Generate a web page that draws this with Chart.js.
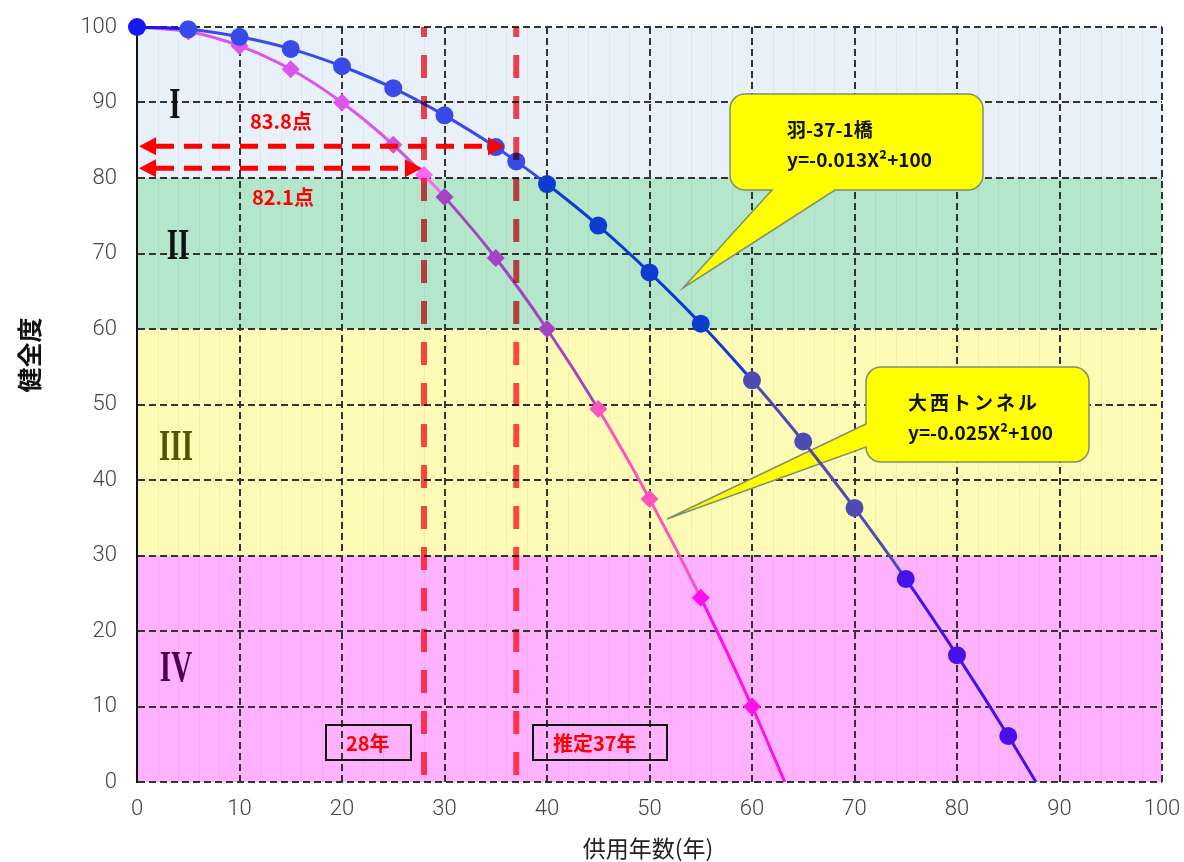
<!DOCTYPE html>
<html lang="ja">
<head>
<meta charset="utf-8">
<title>健全度の推移</title>
<script src="https://cdn.jsdelivr.net/npm/chart.js@4.4.1/dist/chart.umd.min.js"></script>
<style>
  html, body { margin: 0; padding: 0; background: #fff; }
  #wrap { width: 1184px; height: 862px; }
</style>
</head>
<body>
<div id="wrap"><canvas id="chart" width="1184" height="862"></canvas></div>
<script>
// 羽-37-1橋 (circles)
const years1 = [0, 5, 10, 15, 20, 25, 30, 35, 37, 40, 45, 50, 55, 60, 65, 70, 75, 80, 85, 87.7];
const score1 = [100, 99.7, 98.7, 97.1, 94.8, 91.9, 88.3, 84.1, 82.2, 79.2, 73.7, 67.5, 60.7, 53.2, 45.1, 36.3, 26.9, 16.8, 6.1, 0];
// 大西トンネル (diamonds)
const years2 = [0, 5, 10, 15, 20, 25, 28, 30, 35, 40, 45, 50, 55, 60, 63.2];
const score2 = [100, 99.4, 97.5, 94.4, 90, 84.4, 80.4, 77.5, 69.4, 60, 49.4, 37.5, 24.4, 10, 0];

// axis ticks
const xTicks = [0, 10, 20, 30, 40, 50, 60, 70, 80, 90, 100];
const yTicks = [0, 10, 20, 30, 40, 50, 60, 70, 80, 90, 100];

// 健全度 bands (I..IV)
const bandLabels = ['I', 'II', 'III', 'IV'];
const bandTop = [100, 80, 60, 30];
const bandBottom = [80, 60, 30, 0];

// annotations
const markYears = [28, 37];
const markYearLabels = ['28年', '推定37年'];
const arrowLevels = [84.2, 81.3];
const arrowEnds = [35.9, 27.8];
const arrowLabels = ['83.8点', '82.1点'];

// styles (kept apart from the data)
const bandColors = ['#e8f1f9', '#b3e6cb', '#fefbb7', '#feb2fe'];
const romanColors = ['#111111', '#111111', '#555500', '#4a0048'];
const romanPos = [[175, 105], [178, 246], [176, 447], [176, 668]];
const blueColors = ['#1818f0', '#3a4ae8', '#3a4ae8', '#3a4ae8', '#3a4ae8', '#3a4ae8', '#3a4ae8', '#3a4ae8', '#3a4ae8',
  '#0c3cd0', '#0c3cd0', '#0c3cd0', '#0c3cd0', '#4c4cb4', '#4c4cb4', '#4c4cb4', '#4412ea', '#4412ea', '#4412ea', '#4412ea'];
const pinkColors = ['#dd55ee', '#dd55ee', '#dd55ee', '#dd55ee', '#dd55ee', '#cc55e0', '#ff66f2', '#a444c4', '#a444c4',
  '#a444c4', '#ff55bb', '#ff55bb', '#ff10ee', '#ff10ee', '#ff10ee'];

const FONT = '"Noto Sans CJK JP", "Noto Sans", sans-serif';

function toPoints(xs, ys) {
  return xs.map((x, i) => ({ x: x, y: ys[i] }));
}

// 吹き出し (rounded box with a tail)
function calloutPath(ctx, x, y, w, h, r, tail) {
  ctx.beginPath();
  ctx.moveTo(x + r, y);
  ctx.lineTo(x + w - r, y);
  ctx.arcTo(x + w, y, x + w, y + r, r);
  ctx.lineTo(x + w, y + h - r);
  ctx.arcTo(x + w, y + h, x + w - r, y + h, r);
  if (tail.side === 'bottom') {
    ctx.lineTo(tail.b, y + h);
    ctx.lineTo(tail.tipX, tail.tipY);
    ctx.lineTo(tail.a, y + h);
  }
  ctx.lineTo(x + r, y + h);
  ctx.arcTo(x, y + h, x, y + h - r, r);
  if (tail.side === 'left') {
    ctx.lineTo(x, tail.b);
    ctx.lineTo(tail.tipX, tail.tipY);
    ctx.lineTo(x, tail.a);
  }
  ctx.lineTo(x, y + r);
  ctx.arcTo(x, y, x + r, y, r);
  ctx.closePath();
}

function drawCallout(ctx, box, tail, lines) {
  ctx.save();
  calloutPath(ctx, box[0], box[1], box[2], box[3], 15, tail);
  ctx.fillStyle = '#ffff00';
  ctx.fill();
  ctx.strokeStyle = '#7f9070';
  ctx.lineWidth = 1.5;
  ctx.stroke();
  ctx.fillStyle = '#111';
  ctx.font = 'bold 19px ' + FONT;
  ctx.textBaseline = 'middle';
  ctx.textAlign = 'left';
  lines.forEach(l => {
    ctx.letterSpacing = (l[3] || 0) + 'px';
    ctx.fillText(l[0], l[1], l[2]);
  });
  ctx.restore();
}

function drawArrow(ctx, x1, x2, y) {
  const head = 17, half = 9;
  ctx.save();
  ctx.strokeStyle = '#ff0000';
  ctx.fillStyle = '#ff0000';
  ctx.lineWidth = 5;
  ctx.setLineDash([18, 10]);
  ctx.beginPath();
  ctx.moveTo(x1 + head, y);
  ctx.lineTo(x2 - head, y);
  ctx.stroke();
  ctx.setLineDash([]);
  ctx.beginPath();
  ctx.moveTo(x1, y);
  ctx.lineTo(x1 + head, y - half);
  ctx.lineTo(x1 + head, y + half);
  ctx.closePath();
  ctx.fill();
  ctx.beginPath();
  ctx.moveTo(x2, y);
  ctx.lineTo(x2 - head, y - half);
  ctx.lineTo(x2 - head, y + half);
  ctx.closePath();
  ctx.fill();
  ctx.restore();
}

const decorPlugin = {
  id: 'decor',
  beforeDraw(chart) {
    const { ctx, chartArea: a, scales: { x, y } } = chart;
    ctx.save();
    ctx.fillStyle = '#ffffff';
    ctx.fillRect(0, 0, chart.width, chart.height);
    // bands
    bandTop.forEach((top, i) => {
      const py1 = y.getPixelForValue(top);
      const py2 = y.getPixelForValue(bandBottom[i]);
      ctx.fillStyle = bandColors[i];
      ctx.fillRect(a.left, py1, a.right - a.left, py2 - py1);
    });
    // faint vertical stripes
    ctx.strokeStyle = 'rgba(0,0,0,0.045)';
    ctx.lineWidth = 1;
    for (let v = 2; v < 100; v += 2) {
      if (v % 10 === 0) continue;
      const px = Math.round(x.getPixelForValue(v)) + 0.5;
      ctx.beginPath();
      ctx.moveTo(px, a.top);
      ctx.lineTo(px, a.bottom);
      ctx.stroke();
    }
    ctx.restore();
  },
  beforeDatasetsDraw(chart) {
    const ctx = chart.ctx;
    // roman numerals
    bandLabels.forEach((t, i) => {
      ctx.save();
      ctx.translate(romanPos[i][0], romanPos[i][1]);
      ctx.scale(0.66, 1);
      ctx.font = 'bold 44px "Liberation Serif", "DejaVu Serif", serif';
      ctx.fillStyle = romanColors[i];
      ctx.textAlign = 'center';
      ctx.textBaseline = 'middle';
      ctx.fillText(t, 0, 2);
      ctx.restore();
    });
    drawCallout(ctx, [730, 94, 253, 96], { side: 'bottom', a: 772, b: 835, tipX: 683, tipY: 288 },
      [['羽-37-1橋', 787, 130], ['y=-0.013X²+100', 787, 160]]);
    drawCallout(ctx, [866, 367, 223, 95], { side: 'left', a: 424, b: 447, tipX: 667, tipY: 519 },
      [['大西トンネル', 908, 403, 3], ['y=-0.025X²+100', 908, 433]]);
  },
  afterDatasetsDraw(chart) {
    const { ctx, chartArea: a, scales: { x, y } } = chart;
    // vertical dashed year lines
    ctx.save();
    ctx.globalCompositeOperation = 'multiply';
    ctx.strokeStyle = 'rgb(255,70,80)';
    ctx.lineWidth = 6;
    ctx.setLineDash([23, 18]);
    ctx.lineDashOffset = 13;
    markYears.forEach(v => {
      const px = x.getPixelForValue(v);
      ctx.beginPath();
      ctx.moveTo(px, a.top);
      ctx.lineTo(px, a.bottom);
      ctx.stroke();
    });
    ctx.restore();
    // arrows
    arrowLevels.forEach((lv, i) => {
      drawArrow(ctx, x.getPixelForValue(0) + 2, x.getPixelForValue(arrowEnds[i]), y.getPixelForValue(lv));
    });
    ctx.save();
    ctx.fillStyle = '#ff0000';
    ctx.font = 'bold 20px ' + FONT;
    ctx.textBaseline = 'middle';
    ctx.textAlign = 'left';
    ctx.fillText(arrowLabels[0], 250, 121);
    ctx.fillText(arrowLabels[1], 252, 197);
    // year boxes
    const boxes = [[326, 725, 85, 35], [533, 725, 134, 35]];
    markYearLabels.forEach((t, i) => {
      const b = boxes[i];
      ctx.strokeStyle = '#111';
      ctx.lineWidth = 2;
      ctx.strokeRect(b[0], b[1], b[2], b[3]);
      ctx.fillStyle = '#ff0000';
      ctx.font = 'bold 20px ' + FONT;
      ctx.fillText(t, b[0] + 20, b[1] + b[3] / 2 + 1);
    });
    ctx.restore();
  },
  afterDraw(chart) {
    const ctx = chart.ctx;
    ctx.save();
    ctx.fillStyle = '#222';
    ctx.font = '23px ' + FONT;
    ctx.textAlign = 'center';
    ctx.textBaseline = 'middle';
    ctx.fillText('供用年数(年)', 648, 848);
    ctx.translate(29, 355);
    ctx.rotate(-Math.PI / 2);
    ctx.font = 'bold 25px ' + FONT;
    ctx.fillStyle = '#111';
    ctx.fillText('健全度', 0, 0);
    ctx.restore();
  }
};

const ctx = document.getElementById('chart').getContext('2d');
const chart = new Chart(ctx, {
  type: 'line',
  data: {
    datasets: [
      {
        label: '羽-37-1橋',
        data: toPoints(years1, score1),
        borderWidth: 3,
        pointStyle: 'circle',
        pointRadius: years1.map((v, i) => i === years1.length - 1 ? 0 : 9),
        pointBackgroundColor: blueColors,
        pointBorderColor: blueColors,
        pointBorderWidth: 0,
        segment: { borderColor: c => blueColors[c.p0DataIndex] },
        cubicInterpolationMode: 'monotone',
        clip: false,
        order: 1
      },
      {
        label: '大西トンネル',
        data: toPoints(years2, score2),
        borderWidth: 3,
        pointStyle: 'rectRot',
        pointRadius: years2.map((v, i) => i === years2.length - 1 ? 0 : 9),
        pointBackgroundColor: pinkColors,
        pointBorderColor: pinkColors,
        pointBorderWidth: 0,
        segment: { borderColor: c => pinkColors[c.p0DataIndex] },
        cubicInterpolationMode: 'monotone',
        clip: false,
        order: 2
      }
    ]
  },
  options: {
    responsive: false,
    animation: false,
    layout: { padding: { top: 27, right: 22, left: 0, bottom: 0 } },
    plugins: {
      legend: { display: false },
      tooltip: { enabled: false }
    },
    scales: {
      x: {
        type: 'linear',
        min: 0,
        max: 100,
        afterBuildTicks: s => { s.ticks = xTicks.map(v => ({ value: v })); },
        afterFit: s => {
          s.height = 80;
          s.paddingLeft = 0;
          s.paddingRight = 0;
        },
        grid: { color: '#333', lineWidth: 2, drawTicks: false },
        border: { display: false, dash: [7, 4] },
        ticks: { color: '#444', padding: 14, font: { family: 'Roboto', size: 22, weight: 300 } }
      },
      y: {
        min: 0,
        max: 100,
        afterBuildTicks: s => { s.ticks = yTicks.map(v => ({ value: v })); },
        afterFit: s => {
          s.width = 137;
          s.paddingTop = 0;
          s.paddingBottom = 0;
        },
        grid: { color: '#333', lineWidth: 2, drawTicks: false },
        border: { display: true, color: '#111', width: 2, dash: [7, 4] },
        ticks: { color: '#444', padding: 20, font: { family: 'Roboto', size: 22, weight: 300 } }
      }
    }
  },
  plugins: [decorPlugin]
});
</script>
</body>
</html>
